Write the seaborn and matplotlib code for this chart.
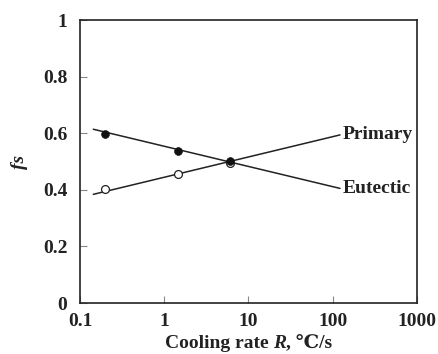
import numpy as np
import pandas as pd
import matplotlib
matplotlib.use('Agg')
import matplotlib.pyplot as plt
import seaborn as sns
from matplotlib.offsetbox import TextArea, HPacker, AnchoredOffsetbox

# Measured points (cooling rate, solid fraction)
rate = [0.2, 1.45, 6.0]
primary_fs = [0.403, 0.456, 0.494]
eutectic_fs = [0.597, 0.537, 0.502]

# Fitted trend lines (end points)
fit_rate = [0.144, 122]
primary_fit = [0.384, 0.594]
eutectic_fit = [0.614, 0.405]

x_ticks = [0.1, 1, 10, 100, 1000]
x_tick_labels = ['0.1', '1', '10', '100', '1000']
y_ticks = [0, 0.2, 0.4, 0.6, 0.8, 1]
y_tick_labels = ['0', '0.2', '0.4', '0.6', '0.8', '1']

sns.set_style('ticks')
fonts = ['Liberation Serif', 'DejaVu Serif', 'DejaVu Sans']
plt.rcParams['font.family'] = fonts
plt.rcParams['font.weight'] = 'bold'
plt.rcParams['font.size'] = 14
ink = '#222222'

fig = plt.figure(figsize=(4.38, 3.54), dpi=100)
ax = fig.add_axes([0.1826, 0.144, 0.7694, 0.7995])

pts = pd.DataFrame({'rate': rate * 2,
                    'fs': primary_fs + eutectic_fs,
                    'phase': ['Primary'] * 3 + ['Eutectic'] * 3})
fit = pd.DataFrame({'rate': fit_rate * 2,
                    'fs': primary_fit + eutectic_fit,
                    'phase': ['Primary'] * 2 + ['Eutectic'] * 2})

sns.lineplot(data=fit, x='rate', y='fs', units='phase', estimator=None,
             color=ink, linewidth=1.1, ax=ax)
sns.scatterplot(data=pts[pts.phase == 'Primary'], x='rate', y='fs', marker='o',
                facecolor='white', edgecolor=ink, linewidth=0.9, s=32, ax=ax, zorder=3)
sns.scatterplot(data=pts[pts.phase == 'Eutectic'], x='rate', y='fs', marker='o',
                color='#111111', edgecolor='#111111', s=32, ax=ax, zorder=4)

ax.text(fit_rate[1] * 1.08, primary_fit[1], 'Primary', ha='left', va='center',
        fontweight='bold', color=ink)
ax.text(fit_rate[1] * 1.08, eutectic_fit[1], 'Eutectic', ha='left', va='center',
        fontweight='bold', color=ink)

ax.set_xscale('log')
ax.set_xlim(0.1, 1000)
ax.set_ylim(0, 1)
ax.set_xticks(x_ticks)
ax.set_xticklabels(x_tick_labels)
ax.set_yticks(y_ticks)
ax.set_yticklabels(y_tick_labels)
ax.minorticks_off()
ax.tick_params(direction='in', length=5, width=0.8, color='#888888', pad=7,
               labelcolor=ink)
ax.tick_params(axis='y', pad=9)
for sp in ax.spines.values():
    sp.set_linewidth(1.2)
    sp.set_color(ink)
ax.set_xlabel('')
ax.set_ylabel('fs', style='italic', fontweight='bold', labelpad=11, color=ink)

# x label with italic R and the degree-Celsius sign
tp = dict(color=ink, fontweight='bold', fontfamily=fonts, fontsize=14)
parts = [TextArea('Cooling rate ', textprops=tp),
         TextArea('R', textprops=dict(tp, style='italic')),
         TextArea(', ℃/s', textprops=tp)]
box = HPacker(children=parts, align='baseline', pad=0, sep=0)
anchored = AnchoredOffsetbox(loc='upper center', child=box, pad=0, borderpad=0,
                             frameon=False, bbox_to_anchor=(0.5, -0.112),
                             bbox_transform=ax.transAxes)
ax.add_artist(anchored)

fig.savefig('out.png', dpi=100)
